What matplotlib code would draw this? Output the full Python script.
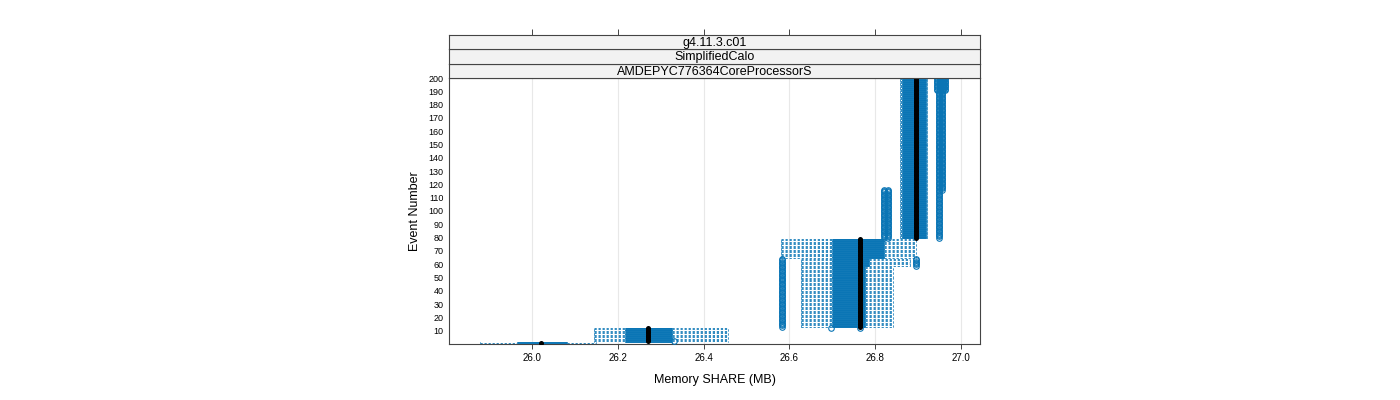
import numpy as np
import matplotlib.pyplot as plt

plt.rcParams['font.family'] = ['Liberation Sans', 'DejaVu Sans']
plt.rcParams['lines.scale_dashes'] = False

# box-and-whisker stats, one row per block of events that share them
box_start = [1, 2, 13, 59, 65, 80]
box_end = [1, 12, 58, 64, 79, 200]
whisk_lo = [25.879, 26.144, 26.627, 26.627, 26.580, 26.858]
q_low = [25.965, 26.216, 26.700, 26.700, 26.700, 26.862]
medians = [26.021, 26.270, 26.765, 26.765, 26.765, 26.894]
q_high = [26.081, 26.326, 26.775, 26.786, 26.820, 26.918]
whisk_hi = [26.150, 26.456, 26.842, 26.880, 26.895, 26.921]

# outliers, blocks of events with a point at the same memory value
out_start = [2, 12, 12, 13, 59, 80, 80, 80, 116, 191, 191, 191, 191]
out_end = [2, 12, 12, 64, 64, 116, 116, 190, 190, 200, 200, 200, 200]
out_x = [26.330, 26.697, 26.765, 26.583, 26.895, 26.821, 26.830, 26.948,
         26.955, 26.943, 26.950, 26.957, 26.963]

strip_labels = ['AMDEPYC776364CoreProcessorS', 'SimplifiedCalo', 'g4.11.3.c01']
xticks = [26.0, 26.2, 26.4, 26.6, 26.8, 27.0]
yticks = list(range(10, 201, 10))

blue = '#0a75b5'
frame = '#444444'
h = 0.25  # half box height in event units
dash = (0, (1.6, 1.3))

fig = plt.figure(figsize=(14, 4), dpi=100)
ax = fig.add_axes([449 / 1400, 56 / 400, 531 / 1400, 266 / 400])

for xt in xticks:
    ax.axvline(xt, color='#e8e8e8', lw=0.8, zorder=0)

# expand the blocks into one row per event
ev, wl, q1, md, q3, wh = [], [], [], [], [], []
for s, e, a, b, c, d, f in zip(box_start, box_end, whisk_lo, q_low, medians, q_high, whisk_hi):
    for i in range(s, e + 1):
        ev.append(i); wl.append(a); q1.append(b); md.append(c); q3.append(d); wh.append(f)
ev = np.array(ev, float)

# whiskers (dashed) and their end bars
ax.hlines(ev, wl, q1, colors=blue, lw=0.7, linestyles=dash, alpha=0.85, zorder=2)
ax.hlines(ev, q3, wh, colors=blue, lw=0.7, linestyles=dash, alpha=0.85, zorder=2)
ax.vlines(wl, ev - h, ev + h, colors=blue, lw=0.7, zorder=2)
ax.vlines(wh, ev - h, ev + h, colors=blue, lw=0.7, zorder=2)

# boxes (outline only)
ax.hlines(ev - h, q1, q3, colors=blue, lw=0.7, zorder=3)
ax.hlines(ev + h, q1, q3, colors=blue, lw=0.7, zorder=3)
ax.vlines(q1, ev - h, ev + h, colors=blue, lw=0.7, zorder=3)
ax.vlines(q3, ev - h, ev + h, colors=blue, lw=0.7, zorder=3)

# outliers
ox, oy = [], []
for s, e, x in zip(out_start, out_end, out_x):
    for i in range(s, e + 1):
        ox.append(x); oy.append(i)
ax.plot(ox, oy, 'o', mfc='none', mec=blue, ms=4, mew=0.8, zorder=4)

# medians
ax.plot(md, ev, 'o', color='black', ms=3.6, mew=0, zorder=5)

ax.set_xlim(25.807, 27.044)
ax.set_ylim(0, 200)
ax.set_xticks(xticks)
ax.set_xticklabels(['%.1f' % t for t in xticks], fontsize=7)
ax.set_yticks(yticks)
ax.set_yticklabels([str(t) for t in yticks], fontsize=6.5)
ax.tick_params(axis='x', direction='out', length=3.6, width=0.7, color=frame, pad=3)
ax.tick_params(axis='y', length=0, pad=4)
for sp in ax.spines.values():
    sp.set_color(frame)
    sp.set_linewidth(0.8)
ax.set_xlabel('Memory SHARE (MB)', fontsize=9, labelpad=8)
ax.set_ylabel('Event Number', fontsize=9, labelpad=5)

# strips above the panel
sh = 14.3 / 400
for k, lab in enumerate(strip_labels):
    sax = fig.add_axes([449 / 1400, 0.805 + k * sh, 531 / 1400, sh])
    sax.set_facecolor('#f2f2f2')
    sax.set_xlim(ax.get_xlim())
    sax.set_yticks([])
    for sp in sax.spines.values():
        sp.set_color(frame)
        sp.set_linewidth(0.8)
    sax.text(0.5, 0.45, lab, transform=sax.transAxes, ha='center', va='center', fontsize=9)
    if k == len(strip_labels) - 1:
        sax.set_xticks(xticks)
        sax.xaxis.tick_top()
        sax.tick_params(axis='x', direction='out', length=4.3, width=0.7, color=frame,
                        labeltop=False, labelbottom=False, bottom=False)
    else:
        sax.set_xticks([])

fig.savefig('out.png', dpi=100)
